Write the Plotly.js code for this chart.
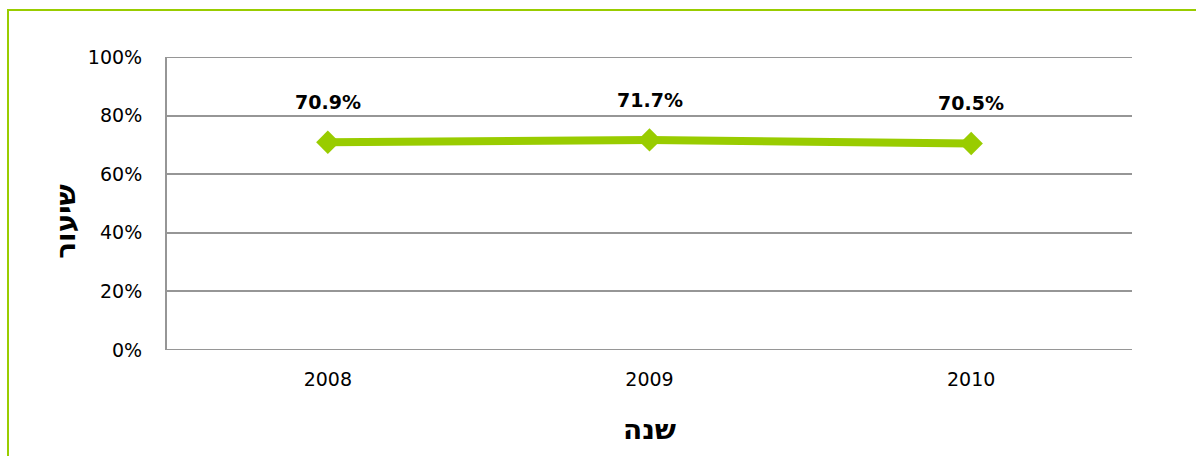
<!DOCTYPE html>
<html>
<head>
<meta charset="utf-8">
<script src="https://cdn.plot.ly/plotly-3.0.1.min.js"></script>
<style>
  html, body { margin: 0; padding: 0; background: #fff; }
  #wrap { position: relative; width: 1196px; height: 456px; overflow: hidden; }
  #frame { position: absolute; left: 7px; top: 9px; width: 1200px; height: 460px;
           border-left: 2px solid #99CC00; border-top: 2px solid #99CC00; pointer-events: none; }
  #chart { position: absolute; left: 0; top: 0; width: 1196px; height: 456px; }
</style>
</head>
<body>
<div id="wrap">
  <div id="chart"></div>
  <div id="frame"></div>
</div>
<script>
const years = ['2008', '2009', '2010'];
const rates = [0.709, 0.717, 0.705];
const rateLabels = ['70.9%', '71.7%', '70.5%'];
const yTickVals = [0, 0.2, 0.4, 0.6, 0.8, 1.0];
const yTickText = ['0%', '20%', '40%', '60%', '80%', '100%'];
const xTitle = 'שנה';
const yTitle = 'שיעור';

const green = '#99CC00';
const gridCol = '#969696';

const trace = {
  x: years,
  y: rates,
  type: 'scatter',
  mode: 'lines+markers',
  line: { color: green, width: 8 },
  marker: { symbol: 'diamond', size: 18, color: green },
  hoverinfo: 'skip',
  showlegend: false,
  cliponaxis: false
};

const annotations = years.map((yr, i) => ({
  xref: 'x', yref: 'y',
  x: i, y: rates[i], text: '<b>' + rateLabels[i] + '</b>',
  showarrow: false, yshift: 40,
  font: { family: 'DejaVu Sans', size: 19, color: '#000' }
}));

// y-axis title drawn as a rotated annotation (sits slightly below the plot's centre in the reference)
annotations.push({
  xref: 'paper', yref: 'paper', x: -0.106, y: 0.44,
  xanchor: 'center', yanchor: 'middle',
  text: '<b>' + yTitle + '</b>', textangle: -90, showarrow: false,
  font: { family: 'DejaVu Sans', size: 28, color: '#000' }
});

const edgeLines = [yTickVals[0], yTickVals[yTickVals.length - 1]].map(v => ({
  type: 'line', xref: 'paper', yref: 'y', x0: 0, x1: 1, y0: v, y1: v,
  line: { color: gridCol, width: 2 }, layer: 'below'
}));

const layout = {
  width: 1196, height: 456,
  margin: { l: 167, r: 64, t: 57, b: 106 },
  paper_bgcolor: 'rgba(0,0,0,0)',
  plot_bgcolor: '#fff',
  font: { family: 'DejaVu Sans', color: '#000' },
  xaxis: {
    type: 'category',
    range: [-0.5, 2.5],
    showgrid: false,
    zeroline: false,
    showline: false,
    ticks: '',
    ticklabelstandoff: 16,
    tickfont: { family: 'DejaVu Sans', size: 19, color: '#000' },
    title: { text: '<b>' + xTitle + '</b>', standoff: 30, font: { family: 'DejaVu Sans', size: 28, color: '#000' } }
  },
  yaxis: {
    range: [0, 1],
    tickvals: yTickVals,
    ticktext: yTickText,
    showgrid: true,
    gridcolor: gridCol,
    gridwidth: 2,
    zeroline: false,
    showline: true,
    linecolor: gridCol,
    linewidth: 2,
    ticks: '',
    ticklabelstandoff: 19,
    tickfont: { family: 'DejaVu Sans', size: 19, color: '#000' }
  },
  shapes: edgeLines,
  annotations: annotations
};

Plotly.newPlot('chart', [trace], layout, { displayModeBar: false, staticPlot: true });
</script>
</body>
</html>
